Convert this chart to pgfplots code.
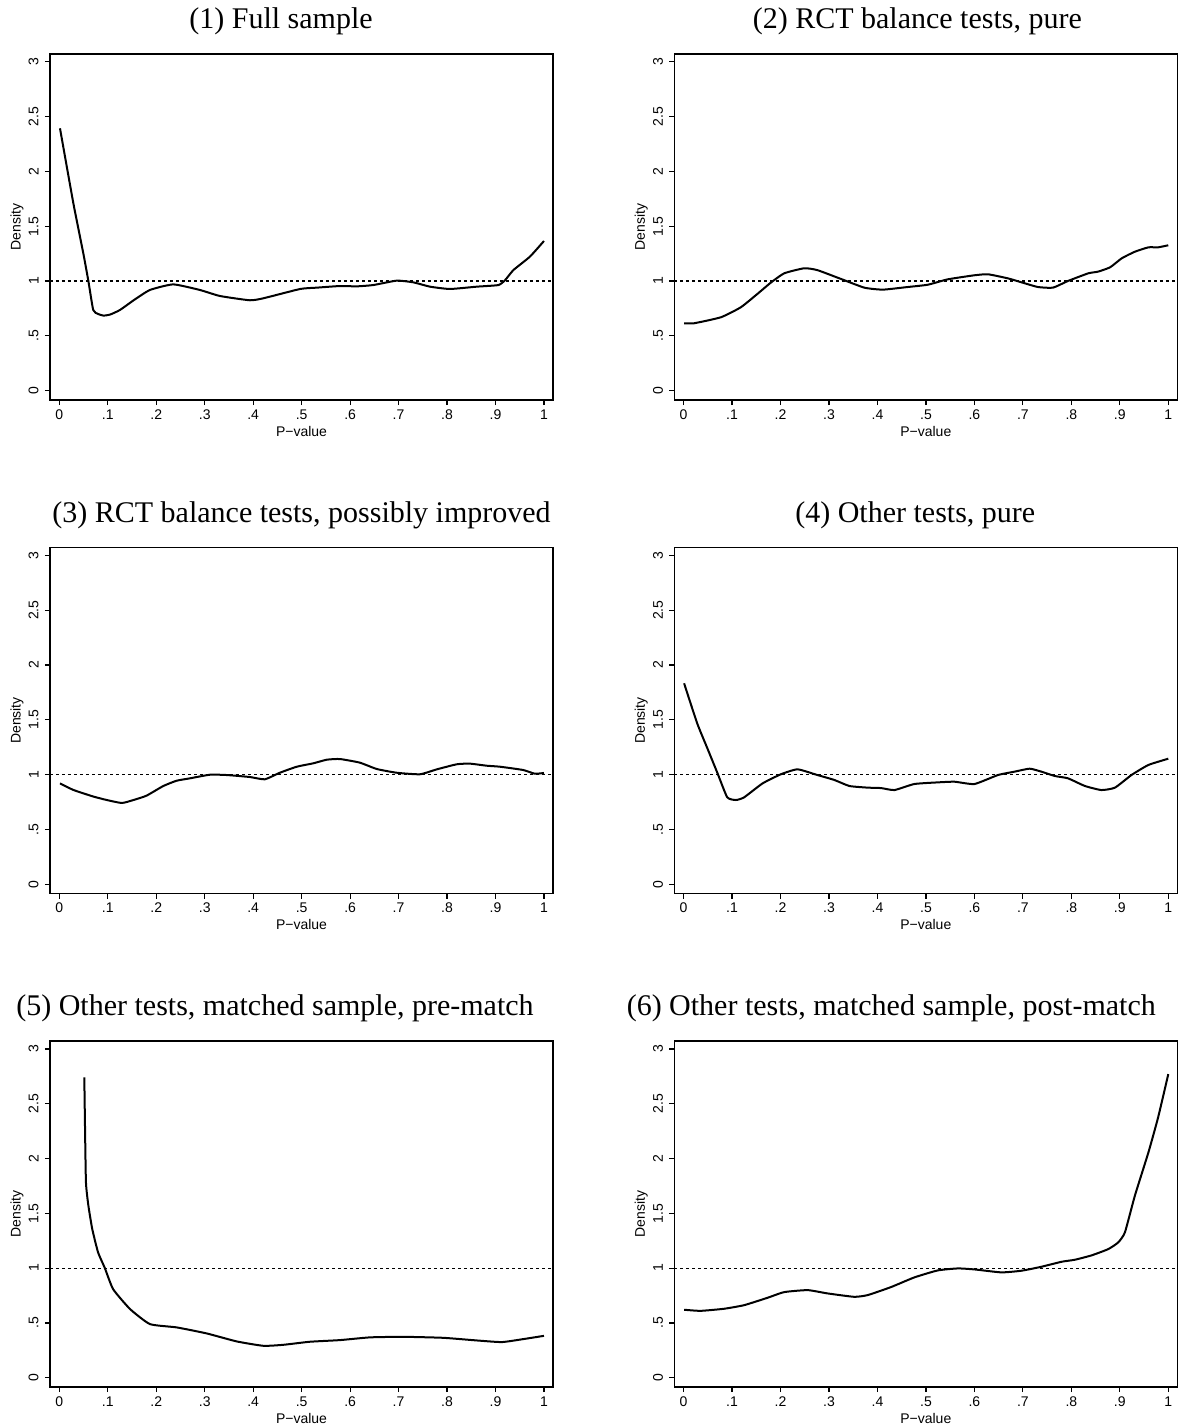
\documentclass[border=0pt]{standalone}
\usepackage{fontspec}
\setmainfont{Liberation Serif}
\setsansfont{Liberation Sans}
\usepackage{pgfplots}
\pgfplotsset{compat=1.18}

\pgfplotsset{
  panel/.style={
    scale only axis, width=251.5bp, height=173bp,
    anchor=south west,
    xmin=-0.0192, xmax=1.0186, ymin=-0.085, ymax=3.072,
    axis line style={line width=0.6bp, black},
    tick style={line width=0.6bp, black},
    tick align=outside, major tick length=2.5bp,
    xtick pos=bottom, ytick pos=left,
    xtick={0,0.1,0.2,0.3,0.4,0.5,0.6,0.7,0.8,0.9,1},
    xticklabels={0,.1,.2,.3,.4,.5,.6,.7,.8,.9,1},
    ytick={0,0.5,1,1.5,2,2.5,3},
    yticklabels={0,.5,1,1.5,2,2.5,3},
    tick label style={font=\sffamily\fontsize{7bp}{8bp}\selectfont},
    xticklabel style={inner sep=0pt, anchor=north, yshift=-2bp},
    yticklabel style={rotate=90, inner sep=0pt, anchor=south, yshift=3bp},
    xlabel={P\textminus value},
    ylabel={Density},
    xlabel style={at={(axis description cs:0.5,0)}, anchor=center, yshift=-15.5bp, font=\sffamily\fontsize{7bp}{8bp}\selectfont, inner sep=0pt},
    ylabel style={at={(axis description cs:0,0.5)}, anchor=center, yshift=16.5bp, font=\sffamily\fontsize{7bp}{8bp}\selectfont, inner sep=0pt},
    title style={at={(axis description cs:0.5,1)}, anchor=base, yshift=6.75bp, font=\fontsize{15bp}{18bp}\selectfont, inner sep=0pt},
  },
  refline/.style={black, line width=0.6bp, dash pattern=on 1.5bp off 1.5bp},
  dens/.style={black, line width=1bp, smooth, tension=0.3},
}

\begin{document}
\begin{tikzpicture}
\path[use as bounding box] (0,0) rectangle (589.5bp,-712.5bp);

% Panel 1
\begin{axis}[panel, at={(25bp,-200bp)}, title={(1) Full sample}, title style={xshift=-10.25bp}]
\addplot[refline] coordinates {(-0.0192,1) (1.0186,1)};
\addplot[dens] coordinates {
(0.0014,2.394) (0.029,1.71) (0.0495,1.254) (0.06,1.0) (0.070,0.736) (0.080,0.700) (0.091,0.685)
(0.105,0.695) (0.125,0.736) (0.155,0.83) (0.187,0.919) (0.235,0.97) (0.29,0.919) (0.3315,0.864)
(0.393,0.825) (0.421,0.843) (0.497,0.928) (0.531,0.94) (0.579,0.955) (0.614,0.952) (0.648,0.964)
(0.696,1.004) (0.730,0.989) (0.765,0.949) (0.806,0.928) (0.861,0.949) (0.906,0.964) (0.920,1.01)
(0.937,1.101) (0.971,1.223) (1.0,1.366)};
\end{axis}

% Panel 2
\begin{axis}[panel, at={(337.15bp,-200bp)}, title={(2) RCT balance tests, pure}, title style={xshift=-4.25bp}]
\addplot[refline] coordinates {(-0.0192,1) (1.0186,1)};
\addplot[dens] coordinates {
(0.001,0.615) (0.0215,0.615) (0.077,0.67) (0.118,0.761) (0.152,0.882) (0.180,0.986) (0.2076,1.071)
(0.249,1.117) (0.276,1.10) (0.325,1.019) (0.373,0.94) (0.411,0.922) (0.4625,0.946) (0.504,0.967)
(0.545,1.016) (0.600,1.053) (0.628,1.062) (0.669,1.025) (0.697,0.989) (0.731,0.946) (0.762,0.94)
(0.793,1.001) (0.835,1.071) (0.855,1.086) (0.880,1.126) (0.904,1.208) (0.931,1.268) (0.959,1.308)
(0.979,1.308) (1.0,1.327)};
\end{axis}

% Panel 3
\begin{axis}[panel, at={(25bp,-446.75bp)}, title={(3) RCT balance tests, possibly improved}]
\addplot[refline] coordinates {(-0.0192,1) (1.0186,1)};
\addplot[dens] coordinates {
(0.0014,0.92) (0.029,0.86) (0.070,0.80) (0.098,0.768) (0.129,0.741) (0.153,0.768) (0.180,0.808)
(0.2146,0.896) (0.242,0.944) (0.2696,0.966) (0.311,0.999) (0.3455,0.996) (0.393,0.978) (0.424,0.957)
(0.455,1.017) (0.490,1.072) (0.524,1.103) (0.552,1.136) (0.579,1.142) (0.620,1.109) (0.655,1.051)
(0.696,1.017) (0.744,1.003) (0.779,1.048) (0.820,1.094) (0.847,1.10) (0.882,1.081) (0.909,1.072)
(0.957,1.042) (0.981,1.008) (1.0,1.015)};
\end{axis}

% Panel 4
\begin{axis}[panel, at={(337.15bp,-446.75bp)}, title={(4) Other tests, pure}, title style={xshift=-5.25bp}]
\addplot[refline] coordinates {(-0.0192,1) (1.0186,1)};
\addplot[dens] coordinates {
(0.001,1.833) (0.028,1.468) (0.049,1.24) (0.070,1.012) (0.090,0.793) (0.108,0.768) (0.125,0.793)
(0.163,0.92) (0.2007,1.003) (0.235,1.048) (0.276,0.996) (0.311,0.951) (0.342,0.896) (0.380,0.881)
(0.4075,0.877) (0.435,0.859) (0.476,0.914) (0.5245,0.929) (0.559,0.935) (0.600,0.914) (0.6485,0.996)
(0.683,1.027) (0.714,1.054) (0.738,1.027) (0.766,0.987) (0.793,0.966) (0.828,0.896) (0.862,0.859)
(0.890,0.881) (0.924,0.996) (0.959,1.088) (1.0,1.145)};
\end{axis}

% Panel 5
\begin{axis}[panel, at={(25bp,-693.5bp)}, title={(5) Other tests, matched sample, pre-match}, title style={xshift=-13.25bp}]
\addplot[refline] coordinates {(-0.0192,1) (1.0186,1)};
\addplot[dens] coordinates {
(0.0516,2.74) (0.053,2.30) (0.055,1.78) (0.060,1.57) (0.068,1.356) (0.080,1.143) (0.094,1.0)
(0.111,0.808) (0.146,0.626) (0.187,0.489) (0.242,0.459) (0.304,0.404) (0.366,0.331) (0.421,0.291)
(0.462,0.30) (0.517,0.328) (0.579,0.343) (0.641,0.368) (0.710,0.373) (0.792,0.364) (0.861,0.34)
(0.913,0.325) (0.957,0.352) (1.0,0.382)};
\end{axis}

% Panel 6
\begin{axis}[panel, at={(337.15bp,-693.5bp)}, title={(6) Other tests, matched sample, post-match}, title style={xshift=-17.25bp}]
\addplot[refline] coordinates {(-0.0192,1) (1.0186,1)};
\addplot[dens] coordinates {
(0.001,0.62) (0.035,0.61) (0.0835,0.629) (0.125,0.662) (0.173,0.729) (0.2076,0.781) (0.256,0.799)
(0.297,0.769) (0.352,0.738) (0.380,0.754) (0.428,0.827) (0.476,0.915) (0.5245,0.979) (0.566,0.997)
(0.600,0.988) (0.6555,0.961) (0.697,0.976) (0.738,1.012) (0.78,1.058) (0.807,1.076) (0.8416,1.116)
(0.876,1.173) (0.8966,1.234) (0.9105,1.326) (0.931,1.66) (0.959,2.056) (0.979,2.375) (1.0,2.77)};
\end{axis}
\end{tikzpicture}
\end{document}
